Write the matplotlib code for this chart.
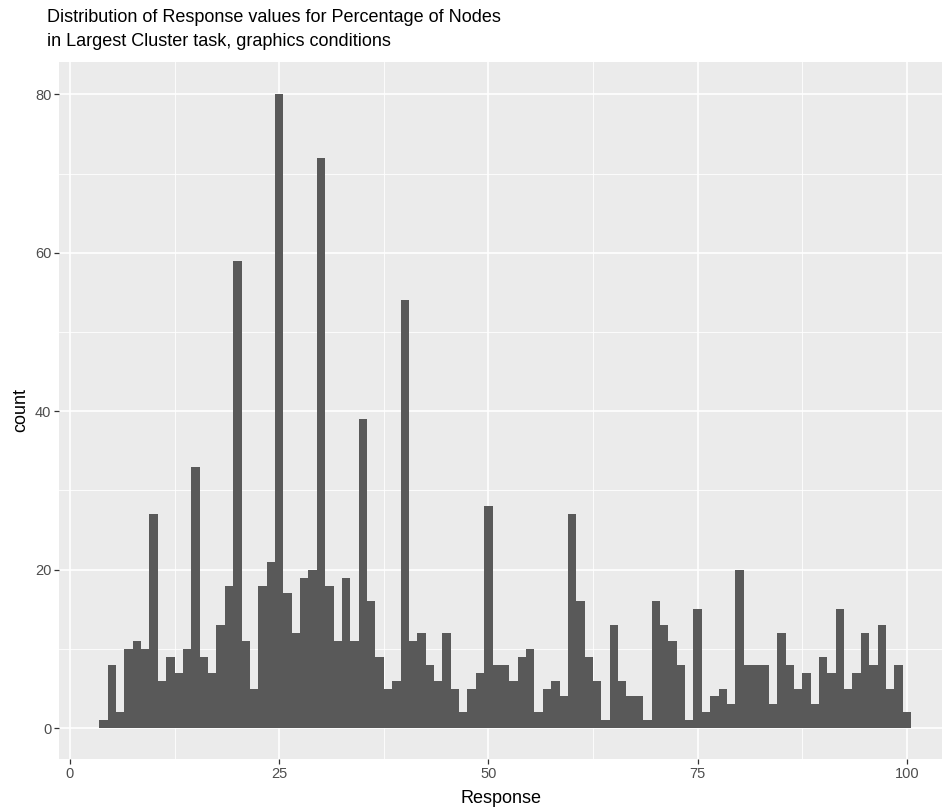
import matplotlib
matplotlib.use("Agg")
import matplotlib.pyplot as plt
import numpy as np

plt.rcParams['font.family'] = ['Liberation Sans', 'DejaVu Sans']

# response value (bin centre, binwidth 1) and count per bin
responses = list(range(4, 101))
counts = [1, 8, 2, 10, 11, 10, 27, 6, 9, 7, 10, 33, 9, 7, 13, 18, 59, 11, 5, 18,
          21, 80, 17, 12, 19, 20, 72, 18, 11, 19, 11, 39, 16, 9, 5, 6, 54, 11, 12, 8,
          6, 12, 5, 2, 5, 7, 28, 8, 8, 6, 9, 10, 2, 5, 6, 4, 27, 16, 9, 6,
          1, 13, 6, 4, 4, 1, 16, 13, 11, 8, 1, 15, 2, 4, 5, 3, 20, 8, 8, 8,
          3, 12, 8, 5, 7, 3, 9, 7, 15, 5, 7, 12, 8, 13, 5, 8, 2]

x_ticks = [0, 25, 50, 75, 100]
y_ticks = [0, 20, 40, 60, 80]

W, H = 942, 807
fig = plt.figure(figsize=(W / 100, H / 100), dpi=100)
ax = fig.add_axes([59 / W, (H - 759) / H, (W - 59) / W, (759 - 62) / H])

ax.set_facecolor('#EBEBEB')
for s in ax.spines.values():
    s.set_visible(False)

# grid
for v in [12.5, 37.5, 62.5, 87.5]:
    ax.axvline(v, color='white', lw=0.6, zorder=0)
for v in [10, 30, 50, 70]:
    ax.axhline(v, color='white', lw=0.6, zorder=0)
for v in x_ticks:
    ax.axvline(v, color='white', lw=1.2, zorder=0)
for v in y_ticks:
    ax.axhline(v, color='white', lw=1.2, zorder=0)

ax.bar(responses, counts, width=1.0, color='#595959', linewidth=0, zorder=2)

ax.set_xlim(-1.31, 104.2)
ax.set_ylim(-3.9, 84.1)
ax.set_xticks(x_ticks)
ax.set_yticks(y_ticks)
ax.tick_params(axis='both', length=3.5, width=0.9, color='#333333',
               labelcolor='#4D4D4D', labelsize=10.5, pad=2)

ax.set_xlabel('Response', fontsize=13, color='black', labelpad=6.5)
ax.set_ylabel('count', fontsize=13, color='black', labelpad=4)

fig.text(47 / W, 1 - 9 / H,
         'Distribution of Response values for Percentage of Nodes\n'
         'in Largest Cluster task, graphics conditions',
         fontsize=13, ha='left', va='top', linespacing=1.5)

fig.savefig('out.png', dpi=100)
